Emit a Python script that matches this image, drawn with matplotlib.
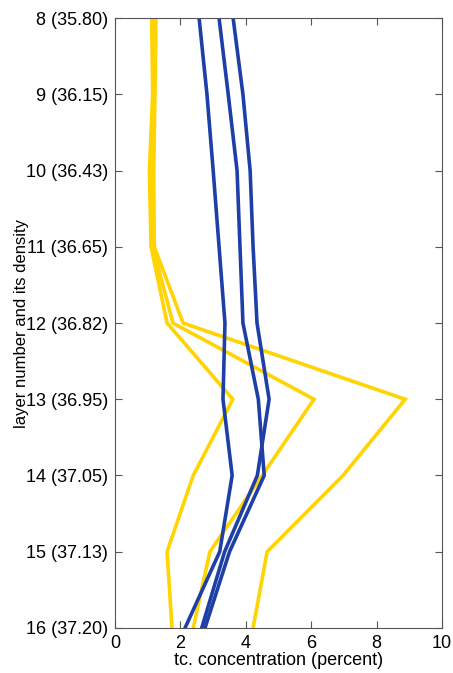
import numpy as np
import matplotlib.pyplot as plt

plt.rcParams['font.family'] = ['Liberation Sans', 'DejaVu Sans']

# layers (numbers) and their densities
layers = np.arange(8, 17)
densities = ['35.80', '36.15', '36.43', '36.65', '36.82', '36.95', '37.05', '37.13', '37.20']

# tc. concentration (percent) per layer, three blue profiles
blue_a = [2.57, 2.81, 3.00, 3.18, 3.36, 3.30, 3.58, 3.20, 2.14]
blue_b = [3.18, 3.46, 3.73, 3.82, 3.91, 4.38, 4.56, 3.50, 2.75]
blue_c = [3.61, 3.91, 4.13, 4.22, 4.34, 4.71, 4.35, 3.35, 2.65]

# three yellow profiles
yel_a = [1.12, 1.15, 1.05, 1.10, 1.59, 3.60, 2.39, 1.59, 1.74]
yel_b = [1.20, 1.20, 1.12, 1.15, 1.77, 6.08, 4.50, 2.90, 2.39]
yel_c = [1.25, 1.22, 1.18, 1.20, 2.08, 8.87, 6.97, 4.65, 4.22]

blue = '#1E3FA6'
yellow = '#FFD400'

fig = plt.figure(figsize=(4.53, 6.73), dpi=100)
ax = fig.add_axes([0.254, 0.067, 0.722, 0.906])

for xs in (yel_a, yel_b, yel_c):
    ax.plot(xs, layers, color=yellow, lw=2.6, solid_joinstyle='miter')
for xs in (blue_a, blue_b, blue_c):
    ax.plot(xs, layers, color=blue, lw=2.6, solid_joinstyle='miter')

ax.set_xlim(0, 10)
ax.set_ylim(16, 8)
ax.set_xticks([0, 2, 4, 6, 8, 10])
ax.set_yticks(layers)
ax.set_yticklabels(['%d (%s)' % (l, d) for l, d in zip(layers, densities)])

ax.tick_params(direction='in', length=5, width=0.8, color='#555555',
               top=True, right=True, labelsize=13, pad=5)
for s in ax.spines.values():
    s.set_color('#555555')
    s.set_linewidth(0.8)

ax.set_xlabel('tc. concentration (percent)', fontsize=13, labelpad=0)
ax.set_ylabel('layer number and its density', fontsize=12, labelpad=-2)

fig.savefig('out.png', dpi=100)
